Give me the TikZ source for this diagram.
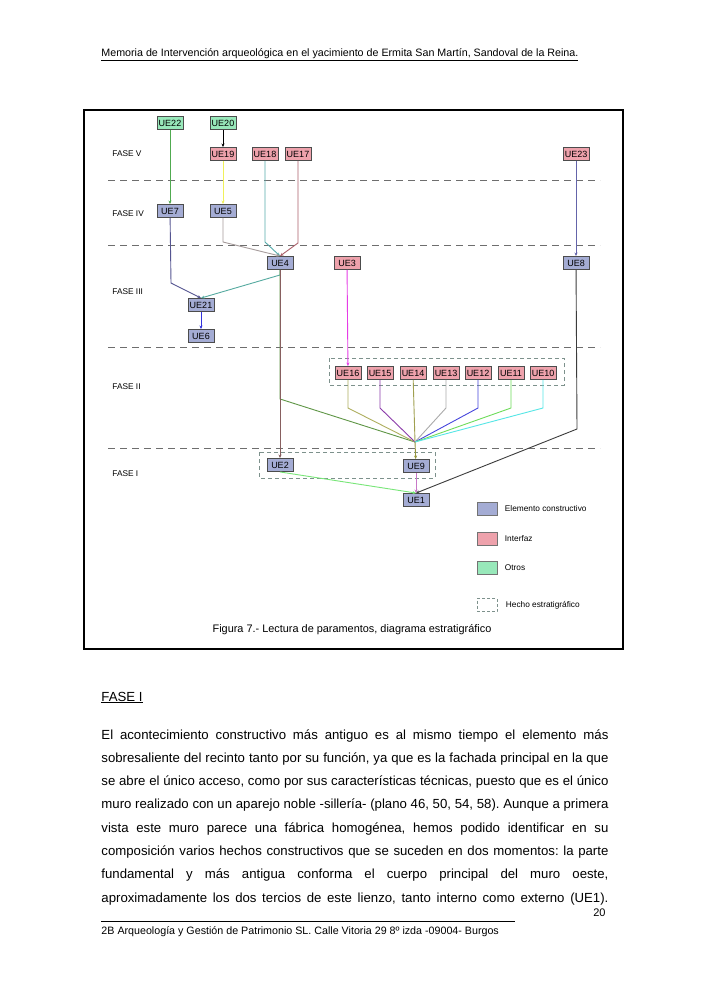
\documentclass[tikz,border=0pt]{standalone}
\usepackage{fontspec}
\setmainfont{Liberation Sans}
\usetikzlibrary{positioning,arrows.meta}
\definecolor{constr}{RGB}{164,172,212}
\definecolor{interf}{RGB}{238,162,172}
\definecolor{otros}{RGB}{152,232,186}
\definecolor{hechogris}{RGB}{125,145,140}
\definecolor{faselinea}{RGB}{110,110,110}
\frenchspacing
\tikzset{
  ue/.style={draw=black!70, fill=#1, minimum width=26pt, minimum height=13pt, inner sep=0pt, text height=6.5pt, text depth=0pt, font=\fontsize{9}{10}\selectfont},
  leyenda/.style={draw=black!55, fill=#1, minimum width=20pt, minimum height=13pt, inner sep=0pt},
  etiq/.style={anchor=west, inner sep=0pt, font=\fontsize{8.3}{9}\selectfont},
  fase/.style={draw=faselinea, line width=0.9pt, dash pattern=on 7pt off 5pt},
  hecho/.style={draw=hechogris, line width=0.8pt, dash pattern=on 4pt off 3pt},
  linea/.style={anchor=base west, inner sep=0pt, font=\fontsize{13.2}{15}\selectfont}
}
\begin{document}
\begin{tikzpicture}[x=1pt,y=-1pt,>={Stealth[length=3.5pt,width=3pt]},line width=0.9pt]
\useasboundingbox[fill=white] (0,0) rectangle (707,1000);
\draw(101,57) node[anchor=base west,inner sep=0pt,font=\fontsize{10.7}{12}\selectfont] (titulo) {\underline{Memoria de Intervención arqueológica en el yacimiento de Ermita San Martín, Sandoval de la Reina.}};
\draw[line width=1.3pt] (84,110) rectangle (623,649);
\foreach \y in {180,245,347,448}
  \draw[fase] (108,\y) -- (600,\y);
\draw(112,154) node[etiq] (f5) {FASE V};
\draw(112,214) node[etiq] (f4) {FASE IV};
\draw(112,292) node[etiq] (f3) {FASE III};
\draw(112,387) node[etiq] (f2) {FASE II};
\draw(112,474) node[etiq] (f1) {FASE I};
\draw[hecho] (329,358) rectangle (564,385);
\draw[hecho] (259,452) rectangle (435,478);
\draw(170,123) node[ue=otros] (ue22) {UE22};
\draw(223,123) node[ue=otros] (ue20) {UE20};
\draw(223,154) node[ue=interf] (ue19) {UE19};
\draw(265,154) node[ue=interf] (ue18) {UE18};
\draw(298,154) node[ue=interf] (ue17) {UE17};
\draw(576,154) node[ue=interf] (ue23) {UE23};
\draw(170,211) node[ue=constr] (ue7) {UE7};
\draw(223,211) node[ue=constr] (ue5) {UE5};
\draw(280,263) node[ue=constr] (ue4) {UE4};
\draw(347,263) node[ue=interf] (ue3) {UE3};
\draw(576,263) node[ue=constr] (ue8) {UE8};
\draw(201,305) node[ue=constr] (ue21) {UE21};
\draw(201,336) node[ue=constr] (ue6) {UE6};
\draw(348,373) node[ue=interf] (ue16) {UE16};
\draw(380,373) node[ue=interf] (ue15) {UE15};
\draw(413,373) node[ue=interf] (ue14) {UE14};
\draw(446,373) node[ue=interf] (ue13) {UE13};
\draw(478,373) node[ue=interf] (ue12) {UE12};
\draw(511,373) node[ue=interf] (ue11) {UE11};
\draw(543,373) node[ue=interf] (ue10) {UE10};
\draw(280,465) node[ue=constr] (ue2) {UE2};
\draw(416,466) node[ue=constr] (ue9) {UE9};
\draw(416,500) node[ue=constr] (ue1) {UE1};
\coordinate (conv) at (415,442);
\draw[->,color={rgb,255:red,80;green,170;blue,80}] (ue22) -- (ue7);
\draw[->,black] (ue20) -- (ue19);
\draw[->,color={rgb,255:red,240;green,240;blue,90}] (ue19) -- (ue5);
\draw[->,color={rgb,255:red,85;green,170;blue,170}] (ue18) -- (265,242) -- (ue4.north);
\draw[->,color={rgb,255:red,170;green,95;blue,105}] (ue17) -- (298,243) -- (ue4.north);
\draw[->,color={rgb,255:red,165;green,155;blue,155}] (ue5) -- (223,242) -- (ue4.north);
\draw[->,color={rgb,255:red,85;green,85;blue,145}] (ue7) -- (171,283) -- (ue21.north);
\draw[->,color={rgb,255:red,85;green,170;blue,160}] (ue4.south) -- (280,275) -- (ue21.north);
\draw[->,color={rgb,255:red,50;green,50;blue,220}] (ue21) -- (ue6);
\draw[color={rgb,255:red,95;green,150;blue,70}] (ue4.south) -- (280,399) -- (conv);
\draw[->,color={rgb,255:red,135;green,95;blue,95}] (ue4) -- (ue2);
\draw[->,color={rgb,255:red,230;green,60;blue,230}] (ue3) -- (ue16);
\draw[->,color={rgb,255:red,100;green,100;blue,170}] (ue23) -- (ue8);
\draw[color={rgb,255:red,175;green,175;blue,95}] (ue16) -- (348,408) -- (conv);
\draw[color={rgb,255:red,140;green,60;blue,170}] (ue15) -- (380,408) -- (conv);
\draw[color={rgb,255:red,160;green,160;blue,80}] (ue14) -- (conv);
\draw[color={rgb,255:red,170;green,170;blue,170}] (ue13) -- (446,408) -- (conv);
\draw[color={rgb,255:red,70;green,70;blue,220}] (ue12) -- (478,408) -- (conv);
\draw[color={rgb,255:red,110;green,220;blue,90}] (ue11) -- (511,408) -- (conv);
\draw[color={rgb,255:red,85;green,230;blue,230}] (ue10) -- (543,408) -- (conv);
\draw[->,color={rgb,255:red,150;green,150;blue,60}] (conv) -- (ue9);
\draw[->,color={rgb,255:red,60;green,60;blue,60}] (ue8) -- (577,429) -- (ue1.north);
\draw[->,color={rgb,255:red,200;green,120;blue,200}] (ue9) -- (ue1);
\draw[->,color={rgb,255:red,120;green,230;blue,120}] (ue2.south) -- (ue1.north);
\draw(487,509) node[leyenda=constr] (lc) {};
\draw(487,539) node[leyenda=interf] (li) {};
\draw(487,568) node[leyenda=otros] (lo) {};
\draw(487,605) node[leyenda=white,draw=hechogris,dash pattern=on 3pt off 2pt] (lh) {};
\draw(lc.east) ++(7,0) node[etiq] (tc) {Elemento constructivo};
\draw(li.east) ++(7,0) node[etiq] (ti) {Interfaz};
\draw(lo.east) ++(7,0) node[etiq] (to) {Otros};
\draw(lh.east) ++(8,0) node[etiq] (th) {Hecho estratigráfico};
\draw(352,630) node[font=\fontsize{10.9}{12}\selectfont] (pie) {Figura 7.- Lectura de paramentos, diagrama estratigráfico};
\draw(101,701) node[linea] (fase1) {\underline{FASE I}};
\foreach \t [count=\i from 0] in {
  {El acontecimiento constructivo más antiguo es al mismo tiempo el elemento más},
  {sobresaliente del recinto tanto por su función, ya que es la fachada principal en la que},
  {se abre el único acceso, como por sus características técnicas, puesto que es el único},
  {muro realizado con un aparejo noble -sillería- (plano 46, 50, 54, 58). Aunque a primera},
  {vista este muro parece una fábrica homogénea, hemos podido identificar en su},
  {composición varios hechos constructivos que se suceden en dos momentos: la parte},
  {fundamental y más antigua conforma el cuerpo principal del muro oeste,},
  {aproximadamente los dos tercios de este lienzo, tanto interno como externo (UE1).}}
  \draw(101,{739+23.3*\i}) node[linea] (l\i) {\makebox[507pt][s]{\t}};
\draw(606,916) node[anchor=base east,inner sep=0pt,font=\fontsize{11}{13}\selectfont] (pag) {20};
\draw[line width=0.7pt] (101,921) -- (515,921);
\draw(101,934) node[anchor=base west,inner sep=0pt,font=\fontsize{10.7}{12}\selectfont] (dir) {2B Arqueología y Gestión de Patrimonio SL. Calle Vitoria 29 8º izda -09004- Burgos};
\end{tikzpicture}
\end{document}
